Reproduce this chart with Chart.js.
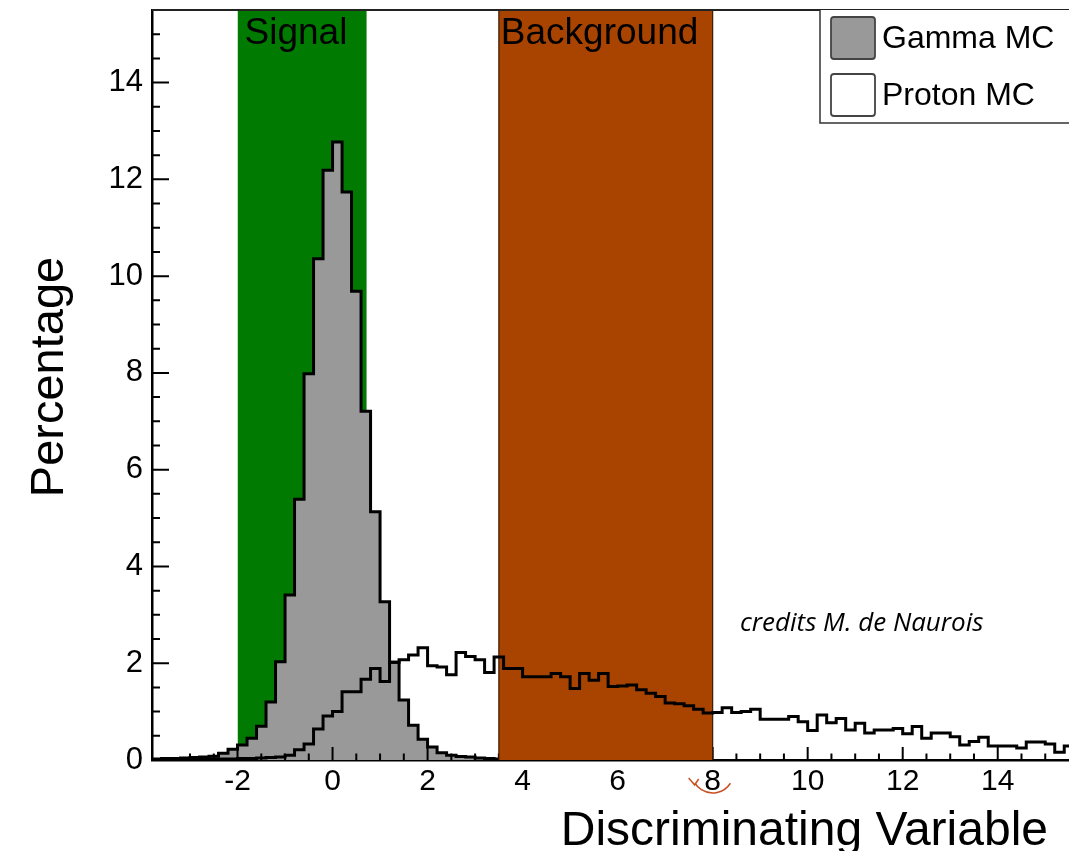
<!DOCTYPE html>
<html>
<head>
<meta charset="utf-8">
<title>Discriminating variable - Gamma / Proton MC</title>
<script src="https://cdn.jsdelivr.net/npm/chart.js@4.4.1/dist/chart.umd.min.js"></script>
<style>
  html, body { margin: 0; padding: 0; background: #fff; }
  #wrap { position: relative; width: 1069px; height: 851px; }
</style>
</head>
<body>
<div id="wrap"><canvas id="discChart"></canvas></div>
<script>
// binning of both histograms
const binLow = -3.8;
const binWidth = 0.2;

// Gamma MC, percentage per bin (first bin starts at binLow)
const gammaPct = [
  0.02, 0.03, 0.03, 0.04, 0.05, 0.06, 0.08, 0.14, 0.22, 0.31,
  0.45, 0.70, 1.20, 2.03, 3.41, 5.39, 7.98, 10.36, 12.19, 12.77,
  11.74, 9.69, 7.21, 5.13, 3.27, 2.02, 1.24, 0.72, 0.43, 0.27,
  0.15, 0.10, 0.07, 0.06, 0.04, 0.03, 0.02
];

// Proton MC, percentage per bin
const protonPct = [
  0.01, 0.01, 0.01, 0.01, 0.01, 0.02, 0.02, 0.02, 0.02, 0.03,
  0.03, 0.04, 0.05, 0.06, 0.10, 0.21, 0.33, 0.64, 0.91, 1.00,
  1.41, 1.41, 1.67, 1.89, 1.62, 2.02, 2.07, 2.17, 2.32, 1.95,
  1.92, 1.76, 2.22, 2.14, 2.07, 1.81, 2.13, 1.89, 1.89, 1.72,
  1.72, 1.72, 1.79, 1.72, 1.48, 1.79, 1.65, 1.79, 1.52, 1.53,
  1.55, 1.45, 1.38, 1.31, 1.18, 1.16, 1.12, 1.05, 0.97, 0.98,
  1.08, 0.98, 1.00, 1.05, 0.84, 0.84, 0.84, 0.90, 0.79, 0.61,
  0.93, 0.77, 0.86, 0.62, 0.76, 0.56, 0.62, 0.62, 0.65, 0.54,
  0.69, 0.45, 0.56, 0.56, 0.48, 0.31, 0.38, 0.47, 0.29, 0.29,
  0.29, 0.25, 0.37, 0.37, 0.33, 0.16, 0.29
];

// cut windows
const signalCut = [-2.0, 0.72];
const backgroundCut = [3.5, 8.0];

// axis ranges
const xLimits = [-3.8, 15.5];
const yLimits = [0, 15.5];

const FONT = '"Liberation Sans", Arial, Helvetica, sans-serif';

// turn bin contents into step points (left edge of every bin)
function histPoints(values) {
  const pts = [{ x: binLow, y: 0 }];
  values.forEach((v, i) => pts.push({ x: binLow + i * binWidth, y: v }));
  const end = binLow + values.length * binWidth;
  pts.push({ x: end, y: values[values.length - 1] });
  pts.push({ x: end, y: 0 });
  return pts;
}

// rectangle from bottom to top of the plot
function bandPoints(cut) {
  return [
    { x: cut[0], y: 0 },
    { x: cut[0], y: yLimits[1] },
    { x: cut[1], y: yLimits[1] },
    { x: cut[1], y: 0 },
  ];
}

function isStep(v, step) {
  return Math.abs(v / step - Math.round(v / step)) < 1e-6;
}

// ROOT style ticks drawn inside the frame (after gamma so the brown band hides some)
const insideTicks = {
  id: "insideTicks",
  afterDatasetDraw(chart, args) {
    if (args.index !== 1) return;
    const ctx = chart.ctx;
    const ca = chart.chartArea;
    const xs = chart.scales.x;
    const ys = chart.scales.y;
    ctx.save();
    ctx.strokeStyle = "#000";
    ctx.lineWidth = 2;
    ctx.beginPath();
    xs.ticks.forEach((t) => {
      if (!isStep(t.value, 0.5)) return;
      const px = xs.getPixelForValue(t.value);
      if (px <= ca.left + 1 || px >= ca.right) return;
      const len = isStep(t.value, 2) ? 13 : 6.5;
      ctx.moveTo(px, ca.bottom);
      ctx.lineTo(px, ca.bottom - len);
    });
    ys.ticks.forEach((t) => {
      if (!isStep(t.value, 0.5)) return;
      const py = ys.getPixelForValue(t.value);
      if (py >= ca.bottom - 1 || py <= ca.top + 1) return;
      const len = isStep(t.value, 2) ? 17 : 8;
      ctx.moveTo(ca.left, py);
      ctx.lineTo(ca.left + len, py);
    });
    ctx.stroke();
    ctx.restore();
  },
};

// frame, band names, legend, axis titles, credits
const decorations = {
  id: "decorations",
  afterDraw(chart) {
    const ctx = chart.ctx;
    const ca = chart.chartArea;
    const xs = chart.scales.x;
    ctx.save();

    // top frame line
    ctx.strokeStyle = "#222";
    ctx.lineWidth = 2;
    ctx.beginPath();
    ctx.moveTo(ca.left, ca.top);
    ctx.lineTo(ca.right, ca.top);
    ctx.stroke();

    // band names
    ctx.fillStyle = "#000";
    ctx.font = "37px " + FONT;
    ctx.textAlign = "left";
    ctx.textBaseline = "alphabetic";
    ctx.fillText("Signal", xs.getPixelForValue(signalCut[0]) + 7, ca.top + 34);
    ctx.fillText("Background", xs.getPixelForValue(backgroundCut[0]) + 2, ca.top + 34);

    // legend box
    const lx = 820, ly = ca.top, lh = 113;
    ctx.fillStyle = "#fff";
    ctx.fillRect(lx, ly, ca.right - lx, lh);
    ctx.strokeStyle = "#333";
    ctx.lineWidth = 1.5;
    ctx.beginPath();
    ctx.moveTo(ca.right, ly + lh);
    ctx.lineTo(lx, ly + lh);
    ctx.lineTo(lx, ly);
    ctx.stroke();
    const entries = [
      { text: chart.data.datasets[1].label, fill: "#999999", y: ly + 7 },
      { text: chart.data.datasets[3].label, fill: "#ffffff", y: ly + 64 },
    ];
    ctx.font = "32px " + FONT;
    ctx.textBaseline = "middle";
    entries.forEach((e) => {
      ctx.fillStyle = e.fill;
      ctx.strokeStyle = "#444";
      ctx.lineWidth = 1.8;
      ctx.beginPath();
      ctx.roundRect(lx + 11, e.y, 44, 42, 3);
      ctx.fill();
      ctx.stroke();
      ctx.fillStyle = "#000";
      ctx.fillText(e.text, lx + 62, e.y + 22);
    });

    // axis titles
    ctx.fillStyle = "#000";
    ctx.font = "48px " + FONT;
    ctx.textAlign = "right";
    ctx.textBaseline = "alphabetic";
    ctx.fillText("Discriminating Variable", ca.right - 21, ca.bottom + 85);

    ctx.save();
    ctx.translate(63, 377);
    ctx.rotate(-Math.PI / 2);
    ctx.textAlign = "center";
    ctx.font = "47px " + FONT;
    ctx.fillText("Percentage", 0, 0);
    ctx.restore();

    // credits
    ctx.font = 'italic 26px "Open Sans", ' + FONT;
    ctx.textAlign = "left";
    ctx.fillText("credits M. de Naurois", 740, 631);

    // hand drawn mark under the 8
    const p8 = xs.getPixelForValue(8);
    ctx.strokeStyle = "#c8501e";
    ctx.lineWidth = 1.5;
    ctx.beginPath();
    ctx.arc(p8, 772, 21, 0.18 * Math.PI, 0.82 * Math.PI);
    ctx.stroke();
    ctx.beginPath();
    ctx.moveTo(p8 - 24, 778);
    ctx.lineTo(p8 - 18, 785);
    ctx.lineTo(p8 - 14, 779);
    ctx.stroke();

    ctx.restore();
  },
};

const config = {
  type: "line",
  data: {
    datasets: [
      {
        label: "Signal",
        data: bandPoints(signalCut),
        backgroundColor: "#007a00",
        borderColor: "rgba(0,0,0,0)",
        borderWidth: 0,
        fill: "origin",
        order: 4,
      },
      {
        label: "Gamma MC",
        data: histPoints(gammaPct),
        stepped: true,
        backgroundColor: "#999999",
        borderColor: "#000",
        borderWidth: 3,
        fill: "origin",
        order: 3,
      },
      {
        label: "Background",
        data: bandPoints(backgroundCut),
        backgroundColor: "#a94400",
        borderColor: "#3a1800",
        borderWidth: 1.2,
        fill: "origin",
        order: 2,
      },
      {
        label: "Proton MC",
        data: histPoints(protonPct),
        stepped: true,
        borderColor: "#000",
        borderWidth: 3,
        fill: false,
        order: 1,
      },
    ],
  },
  options: {
    responsive: true,
    maintainAspectRatio: false,
    animation: false,
    events: [],
    elements: { point: { radius: 0 }, line: { tension: 0 } },
    layout: { padding: { top: 10, left: 0, right: 0, bottom: 0 } },
    plugins: {
      legend: { display: false },
      tooltip: { enabled: false },
    },
    scales: {
      x: {
        type: "linear",
        min: xLimits[0],
        max: xLimits[1],
        z: 1,
        grid: { display: false, drawTicks: false },
        border: { display: true, color: "#000", width: 2.5 },
        ticks: {
          stepSize: 0.5,
          autoSkip: false,
          maxRotation: 0,
          padding: 4,
          color: "#000",
          font: { family: FONT, size: 30 },
          callback: (v) => (isStep(v, 2) ? String(Math.round(v)) : ""),
        },
        afterFit: (scale) => {
          scale.height = 91;
          scale.paddingLeft = 0;
          scale.paddingRight = 0;
        },
      },
      y: {
        type: "linear",
        min: yLimits[0],
        max: yLimits[1],
        z: 1,
        grid: { display: false, drawTicks: false },
        border: { display: true, color: "#000", width: 2.5 },
        ticks: {
          stepSize: 0.5,
          autoSkip: false,
          padding: 9,
          color: "#000",
          font: { family: FONT, size: 31 },
          callback: (v) => (isStep(v, 2) ? String(Math.round(v)) : ""),
        },
        afterFit: (scale) => {
          scale.width = 152;
          scale.paddingTop = 0;
          scale.paddingBottom = 0;
        },
      },
    },
  },
  plugins: [insideTicks, decorations],
};

const discChart = new Chart(document.getElementById("discChart"), config);
</script>
</body>
</html>
